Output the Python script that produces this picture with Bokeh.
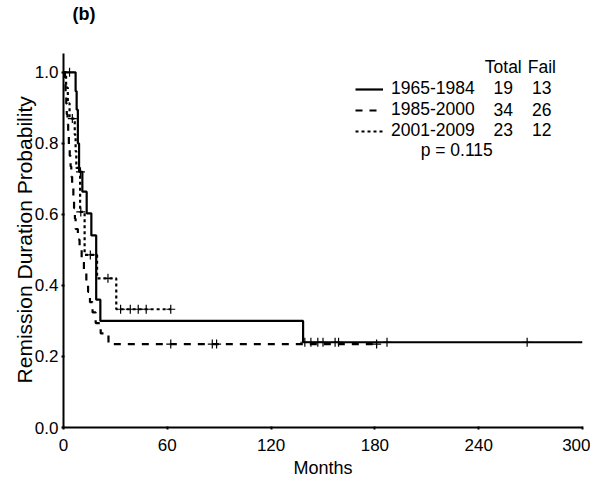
from bokeh.plotting import figure
from bokeh.models import Legend, LegendItem, Label, FixedTicker, PrintfTickFormatter, Range1d
from bokeh.embed import file_html
from bokeh.resources import INLINE

# ---- data ----
# 1965-1984 (solid)
t1 = [0, 7, 7.6, 8.3, 9.0, 10.9, 13.4, 16.1, 18.9, 21.3, 138.5]
s1 = [1.0, 0.947, 0.895, 0.80, 0.72, 0.664, 0.603, 0.541, 0.36, 0.30, 0.24]
end1 = 300
c1_t = [3.5, 9.8, 139.5, 143, 147, 150, 157, 159, 187, 268]
# 1985-2000 (dashed)
t2 = [0, 0.8, 1.2, 1.6, 1.9, 2.3, 2.7, 3.1, 3.6, 4.1, 4.5, 5.0, 5.7, 6.1, 6.6, 7.0,
      8.3, 9.3, 10.5, 11.8, 13.2, 14.2, 15.3, 16.8, 18.6, 21.5, 26.0]
s2 = [1.0, 0.971, 0.941, 0.912, 0.882, 0.853, 0.824, 0.794, 0.765, 0.735, 0.706, 0.676,
      0.647, 0.618, 0.588, 0.559, 0.529, 0.500, 0.471, 0.441, 0.412, 0.382, 0.353,
      0.324, 0.294, 0.265, 0.235]
end2 = 181
c2_t = [62, 86, 88.5, 181]
# 2001-2009 (dotted)
t3 = [0, 1.5, 2.5, 3.5, 6.5, 7.0, 7.4, 9.6, 12.2, 19.4, 30.5]
s3 = [1.0, 0.957, 0.913, 0.870, 0.824, 0.778, 0.731, 0.607, 0.486, 0.42, 0.333]
end3 = 62
c3_t = [5.1, 10.0, 15.5, 25.7, 33, 38.6, 43.2, 47.8, 62]

groups = ["1965-1984", "1985-2000", "2001-2009"]
totals = ["19", "34", "23"]
fails = ["13", "26", "12"]
p_text = "p = 0.115"
panel = "(b)"
x_ticks = [0, 60, 120, 180, 240, 300]
y_ticks = [0.0, 0.2, 0.4, 0.6, 0.8, 1.0]

FONT = "Liberation Sans"


def step_xy(t, s, end):
    xs, ys = [], []
    for i in range(len(t)):
        nxt = t[i + 1] if i + 1 < len(t) else end
        xs += [t[i], nxt]
        ys += [s[i], s[i]]
    return xs, ys


def surv_at(t, s, x):
    v = s[0]
    for ti, si in zip(t, s):
        if ti <= x:
            v = si
    return v


p = figure(width=590, height=480, output_backend="svg", toolbar_location=None,
           x_range=Range1d(0, 300), y_range=Range1d(0, 1.1883),
           min_border_left=63, min_border_right=8, min_border_top=5, min_border_bottom=49)
p.outline_line_color = None
p.grid.visible = False
p.background_fill_color = "white"

styles = [("solid", 2.2), ("7 7", 2.2), ("3 3", 2.2)]
series = [(t1, s1, end1, c1_t), (t2, s2, end2, c2_t), (t3, s3, end3, c3_t)]
renderers = []
for (t, s, end, ct), (dash, lw) in zip(series, styles):
    xs, ys = step_xy(t, s, end)
    r = p.line(xs, ys, line_color="black", line_width=lw, line_dash=dash)
    renderers.append(r)
    cy = [surv_at(t, s, x) for x in ct]
    p.scatter(ct, cy, marker="cross", size=9, line_color="black", line_width=1.2)

for ax in (p.xaxis[0], p.yaxis[0]):
    ax.axis_line_width = 2
    ax.axis_line_color = "black"
    ax.major_tick_out = 2
    ax.major_tick_in = 1
    ax.major_tick_line_width = 2
    ax.minor_tick_line_color = None
    ax.major_label_text_font = FONT
    ax.major_label_text_font_size = "17px"
    ax.major_label_text_color = "black"
    ax.axis_label_text_font = FONT
    ax.axis_label_text_font_style = "normal"
    ax.axis_label_text_color = "black"

p.yaxis.bounds = (0, 1.054)
p.xaxis.ticker = FixedTicker(ticks=x_ticks)
p.yaxis.ticker = FixedTicker(ticks=y_ticks)
p.yaxis.formatter = PrintfTickFormatter(format="%.1f")
p.xaxis.axis_label = "Months"
# trailing non-breaking spaces shift the centred label down to the axis' visible extent
p.yaxis.axis_label = "Remission Duration Probability" + "\u00a0" * 8
p.xaxis.axis_label_text_font_size = "18px"
p.yaxis.axis_label_text_font_size = "21px"
p.xaxis.major_label_standoff = 9
p.yaxis.major_label_standoff = 3
p.xaxis.axis_label_standoff = 4
p.yaxis.axis_label_standoff = -4

legend = Legend(items=[LegendItem(label=g, renderers=[r]) for g, r in zip(groups, renderers)],
                location=(292, 286), padding=0, margin=0, spacing=-1,
                glyph_width=28, glyph_height=20, label_height=20, label_standoff=8,
                label_text_font=FONT, label_text_font_size="17.5px", label_text_color="black",
                background_fill_alpha=0, border_line_color=None)
p.add_layout(legend, "center")

def lab(x, y, text, align="center", style="normal", size="17.5px"):
    p.add_layout(Label(x=x, y=y, text=text, text_font=FONT, text_font_size=size,
                       text_align=align, text_baseline="middle", text_color="black",
                       text_font_style=style))

col_total = 254.2
col_fail = 276.5
lab(col_total, 1.0145, "Total")
lab(col_fail, 1.0145, "Fail")
for yy, a, b in zip([0.956, 0.8954, 0.8396], totals, fails):
    lab(col_total, yy, a)
    lab(col_fail, yy, b)
lab(227.3, 0.782, p_text)
lab(5.2, 1.165, panel, align="left", style="bold", size="18px")

open("out.html", "w").write(file_html(p, INLINE))
